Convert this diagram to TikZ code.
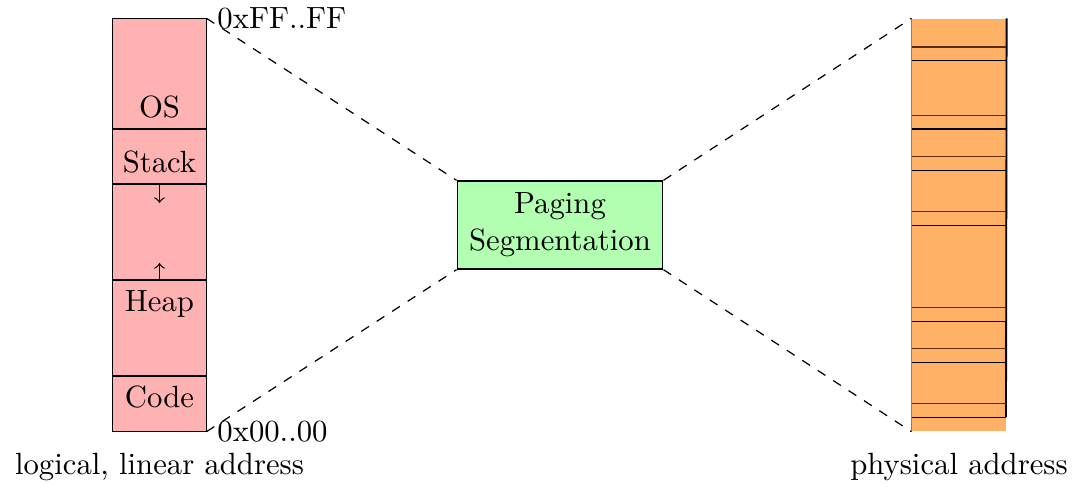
\documentclass[tikz,border=0pt]{standalone}
\usetikzlibrary{fit}
\begin{document}
\begin{tikzpicture}[x=0.3257pt, y=-0.3257pt,
  memblock/.style={draw=none, inner sep=0pt},
  region/.style={anchor=base},
  growarrow/.style={->},
  link/.style={dashed},
  divider/.style={draw=black},
  mmu/.style={draw, fill=green!30, align=center, minimum width=67pt, minimum height=28.7pt}]
\useasboundingbox (0,0) rectangle (1074,487);

% logical address space
\node[memblock, fill=red!30, fit={(113,19) (206,431)}] (logical) {};
\draw (logical.north west) rectangle (logical.south east);
\draw[divider] (113,129) -- (206,129);
\draw[divider] (113,184) -- (206,184);
\draw[divider] (113,280) -- (206,280);
\draw[divider] (113,376) -- (206,376);
\coordinate (stacktop) at (159.5,184);
\coordinate (stackend) at (159.5,203);
\coordinate (heaptop) at (159.5,280);
\coordinate (heapend) at (159.5,263);
\draw[growarrow] (stacktop) -- (stackend);
\draw[growarrow] (heaptop) -- (heapend);
\node[region] (os) at (159.5,118) {OS};
\node[region] (stack) at (159.5,173) {Stack};
\node[region] (heap) at (159.5,312) {Heap};
\node[region] (code) at (159.5,408) {Code};
\node[anchor=west] (hi) at (logical.north east) {0xFF..FF};
\node[anchor=west] (lo) at (logical.south east) {0x00..00};
\node[anchor=base] (llabel) at (159.5,474) {logical, linear address};

% translation unit
\node[mmu] (unit) at (560,225) {Paging\\Segmentation};

% physical memory
\node[memblock, fill=orange!60, fit={(912,19) (1006,431)}] (physical) {};
\draw[black!50, line width=0.3pt] (physical.north west) -- (physical.south west);
\coordinate (prbottom) at (1006,417);
\draw[line width=0.6pt] (physical.north east) -- (prbottom);
\foreach \a/\b in {47/60.7, 115.3/129, 156.7/170.3, 211.3/225.3, 307.7/321.3, 348.7/362.7, 403.7/417.3} {
  \draw[black!65!orange] (912,\a) -- (1006,\a);
  \draw (912,\b) -- (1006,\b);
}
\node[anchor=base] (plabel) at (959,474) {physical address};

% dashed connectors
\draw[link] (logical.north east) -- (unit.north west);
\draw[link] (logical.south east) -- (unit.south west);
\draw[link] (unit.north east) -- (physical.north west);
\draw[link] (unit.south east) -- (physical.south west);
\end{tikzpicture}
\end{document}
